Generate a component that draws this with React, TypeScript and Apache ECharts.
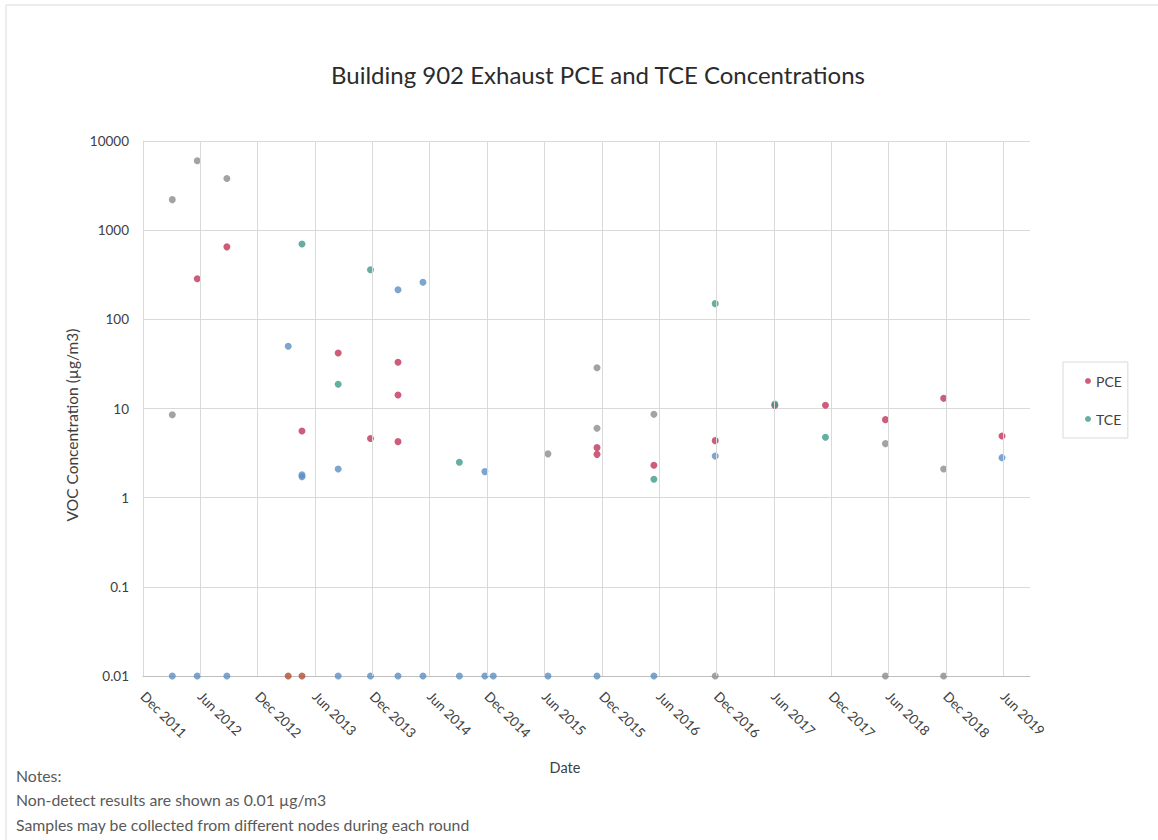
import React, { useEffect, useRef } from "react";
import * as echarts from "echarts";

const xTickLabels = [
  "Dec 2011", "Jun 2012", "Dec 2012", "Jun 2013", "Dec 2013", "Jun 2014",
  "Dec 2014", "Jun 2015", "Dec 2015", "Jun 2016", "Dec 2016", "Jun 2017",
  "Dec 2017", "Jun 2018", "Dec 2018", "Jun 2019",
];
const yTickLabels = ["0.01", "0.1", "1", "10", "100", "1000", "10000"];

const pceData: [string, number][] = [
  ["2012-05-22", 285], ["2012-08-25", 650], ["2013-04-20", 5.6],
  ["2013-08-14", 42], ["2013-11-25", 4.6], ["2014-02-20", 33],
  ["2014-02-20", 14.2], ["2014-02-20", 4.25], ["2015-11-16", 3.06],
  ["2015-11-16", 3.64], ["2016-05-15", 2.31], ["2016-11-27", 4.36],
  ["2017-06-04", 10.8], ["2017-11-13", 10.9], ["2018-05-22", 7.5],
  ["2018-11-24", 13], ["2019-05-28", 4.92],
];
const tceData: [string, number][] = [
  ["2013-04-20", 700], ["2013-08-14", 18.7], ["2013-11-25", 360],
  ["2014-09-04", 2.5], ["2016-05-15", 1.61], ["2016-11-27", 150],
  ["2017-06-04", 11.2], ["2017-11-13", 4.75],
];
const otherNodeGray: [string, number][] = [
  ["2012-03-03", 2200], ["2012-03-03", 8.5], ["2012-05-22", 6000],
  ["2012-08-25", 3800], ["2015-06-12", 3.1], ["2015-11-16", 28.7],
  ["2015-11-16", 6.0], ["2016-05-15", 8.6], ["2018-05-22", 4.04],
  ["2018-11-24", 2.1], ["2016-11-27", 0.01], ["2018-05-22", 0.01],
  ["2018-11-24", 0.01],
];
const otherNodeBlue: [string, number][] = [
  ["2013-03-07", 50], ["2013-04-20", 1.8], ["2013-04-20", 1.72],
  ["2013-08-14", 2.1], ["2014-02-20", 215], ["2014-05-10", 260],
  ["2014-11-24", 1.96], ["2016-11-27", 2.93], ["2019-05-28", 2.81],
  ["2012-03-03", 0.01], ["2012-05-22", 0.01], ["2012-08-25", 0.01],
  ["2013-08-14", 0.01], ["2013-11-25", 0.01], ["2014-02-20", 0.01],
  ["2014-05-10", 0.01], ["2014-09-04", 0.01], ["2014-11-24", 0.01],
  ["2014-12-21", 0.01], ["2015-06-12", 0.01], ["2015-11-16", 0.01],
  ["2016-05-15", 0.01],
];
const otherNodeBrown: [string, number][] = [
  ["2013-03-07", 0.01], ["2013-04-20", 0.01],
];

const notes = [
  "Notes:",
  "Non-detect results are shown as 0.01 \u00b5g/m3",
  "Samples may be collected from different nodes during each round",
];

// months elapsed since 1 Dec 2011
function toMonths(d: string): number {
  const [y, m, day] = d.split("-").map(Number);
  const dim = new Date(y, m, 0).getDate();
  return (y - 2011) * 12 + (m - 12) + (day - 1) / dim;
}
const conv = (arr: [string, number][]) => arr.map(([d, v]) => [toMonths(d), v]);

const FONT = "Lato, 'Open Sans', sans-serif";

export default function App() {
  const ref = useRef<HTMLDivElement>(null);
  useEffect(() => {
    document.body.style.margin = "0";
    if (!ref.current) return;
    const chart = echarts.init(ref.current, undefined, { renderer: "svg" });
    const scatterBase = {
      type: "scatter" as const,
      symbol: "circle",
      symbolSize: 7,
      clip: false,
      z: 3,
    };
    chart.setOption({
      animation: false,
      backgroundColor: "#ffffff",
      textStyle: { fontFamily: FONT },
      title: {
        text: "Building 902 Exhaust PCE and TCE Concentrations",
        left: 326,
        top: 57,
        textStyle: { fontFamily: FONT, fontSize: 24, fontWeight: "normal", color: "#2b2b2b" },
      },
      legend: {
        orient: "vertical",
        left: 1063,
        top: 362,
        data: ["PCE", "TCE"],
        icon: "circle",
        itemWidth: 6,
        itemHeight: 6,
        itemGap: 24,
        padding: [12, 6, 12, 22],
        borderColor: "#d9d9d9",
        borderWidth: 1,
        textStyle: { fontFamily: FONT, fontSize: 14, color: "#404040" },
      },
      grid: { left: 143, right: 128, top: 141, bottom: 164, containLabel: false },
      xAxis: {
        type: "value",
        min: 0,
        max: 92.8,
        interval: 6,
        splitLine: { show: false },
        axisTick: { show: false },
        axisLine: { lineStyle: { color: "#bfbfbf" } },
        axisLabel: {
          rotate: -45,
          margin: 18,
          showMaxLabel: false,
          fontFamily: FONT,
          fontSize: 13.5,
          color: "#404040",
          formatter: (v: number) => {
            const i = Math.round(v / 6);
            return Math.abs(v - i * 6) < 1e-6 && i < xTickLabels.length ? xTickLabels[i] : "";
          },
        },
      },
      yAxis: {
        type: "log",
        logBase: 10,
        min: 0.01,
        max: 10000,
        splitLine: { lineStyle: { color: "#d9d9d9" } },
        axisLine: { show: true, lineStyle: { color: "#d9d9d9" } },
        axisTick: { show: false },
        axisLabel: {
          margin: 14,
          fontFamily: FONT,
          fontSize: 13.5,
          color: "#404040",
          formatter: (v: number) =>
            yTickLabels.find((l) => Math.abs(Math.log10(Number(l)) - Math.log10(v)) < 1e-6) ?? "",
        },
      },
      graphic: [
        {
          type: "rect",
          shape: { x: 6, y: 5, width: 1160, height: 850 },
          style: { fill: "none", stroke: "#d9d9d9", lineWidth: 1 },
          silent: true,
          z: -10,
        },
        {
          type: "text",
          x: 72,
          y: 425,
          rotation: Math.PI / 2,
          style: {
            text: "VOC Concentration (\u00b5g/m3)",
            fontFamily: FONT,
            fontSize: 15.5,
            fill: "#404040",
            align: "center",
            verticalAlign: "middle",
          },
        },
        {
          type: "text",
          x: 565,
          y: 767,
          style: {
            text: "Date",
            fontFamily: FONT,
            fontSize: 14.5,
            fill: "#404040",
            align: "center",
            verticalAlign: "middle",
          },
        },
        ...notes.map((t, i) => ({
          type: "text",
          x: 16,
          y: 775 + i * 24.5,
          style: {
            text: t,
            fontFamily: FONT,
            fontSize: 15.8,
            fill: "#595959",
            align: "left",
            verticalAlign: "middle",
          },
        })),
      ],
      series: [
        {
          name: "gridlines",
          type: "scatter",
          data: [],
          z: 1,
          markLine: {
            silent: true,
            symbol: ["none", "none"],
            label: { show: false },
            lineStyle: { color: "#d9d9d9", type: "solid", width: 1 },
            data: xTickLabels.map((_, i) => ({ xAxis: i * 6 })),
          },
        },
        { ...scatterBase, name: "Node data (gray)", data: conv(otherNodeGray), itemStyle: { color: "#8c8c8c" } },
        { ...scatterBase, name: "Node data (blue)", data: conv(otherNodeBlue), itemStyle: { color: "#5b8fc4" } },
        { ...scatterBase, name: "Node data (brown)", data: conv(otherNodeBrown), itemStyle: { color: "#b0502e" } },
        { ...scatterBase, name: "PCE", data: conv(pceData), itemStyle: { color: "#c2345a" } },
        { ...scatterBase, name: "TCE", data: conv(tceData), itemStyle: { color: "#3f9a8a" } },
      ],
    });
    return () => chart.dispose();
  }, []);
  return <div ref={ref} style={{ width: 1158, height: 840 }} />;
}
